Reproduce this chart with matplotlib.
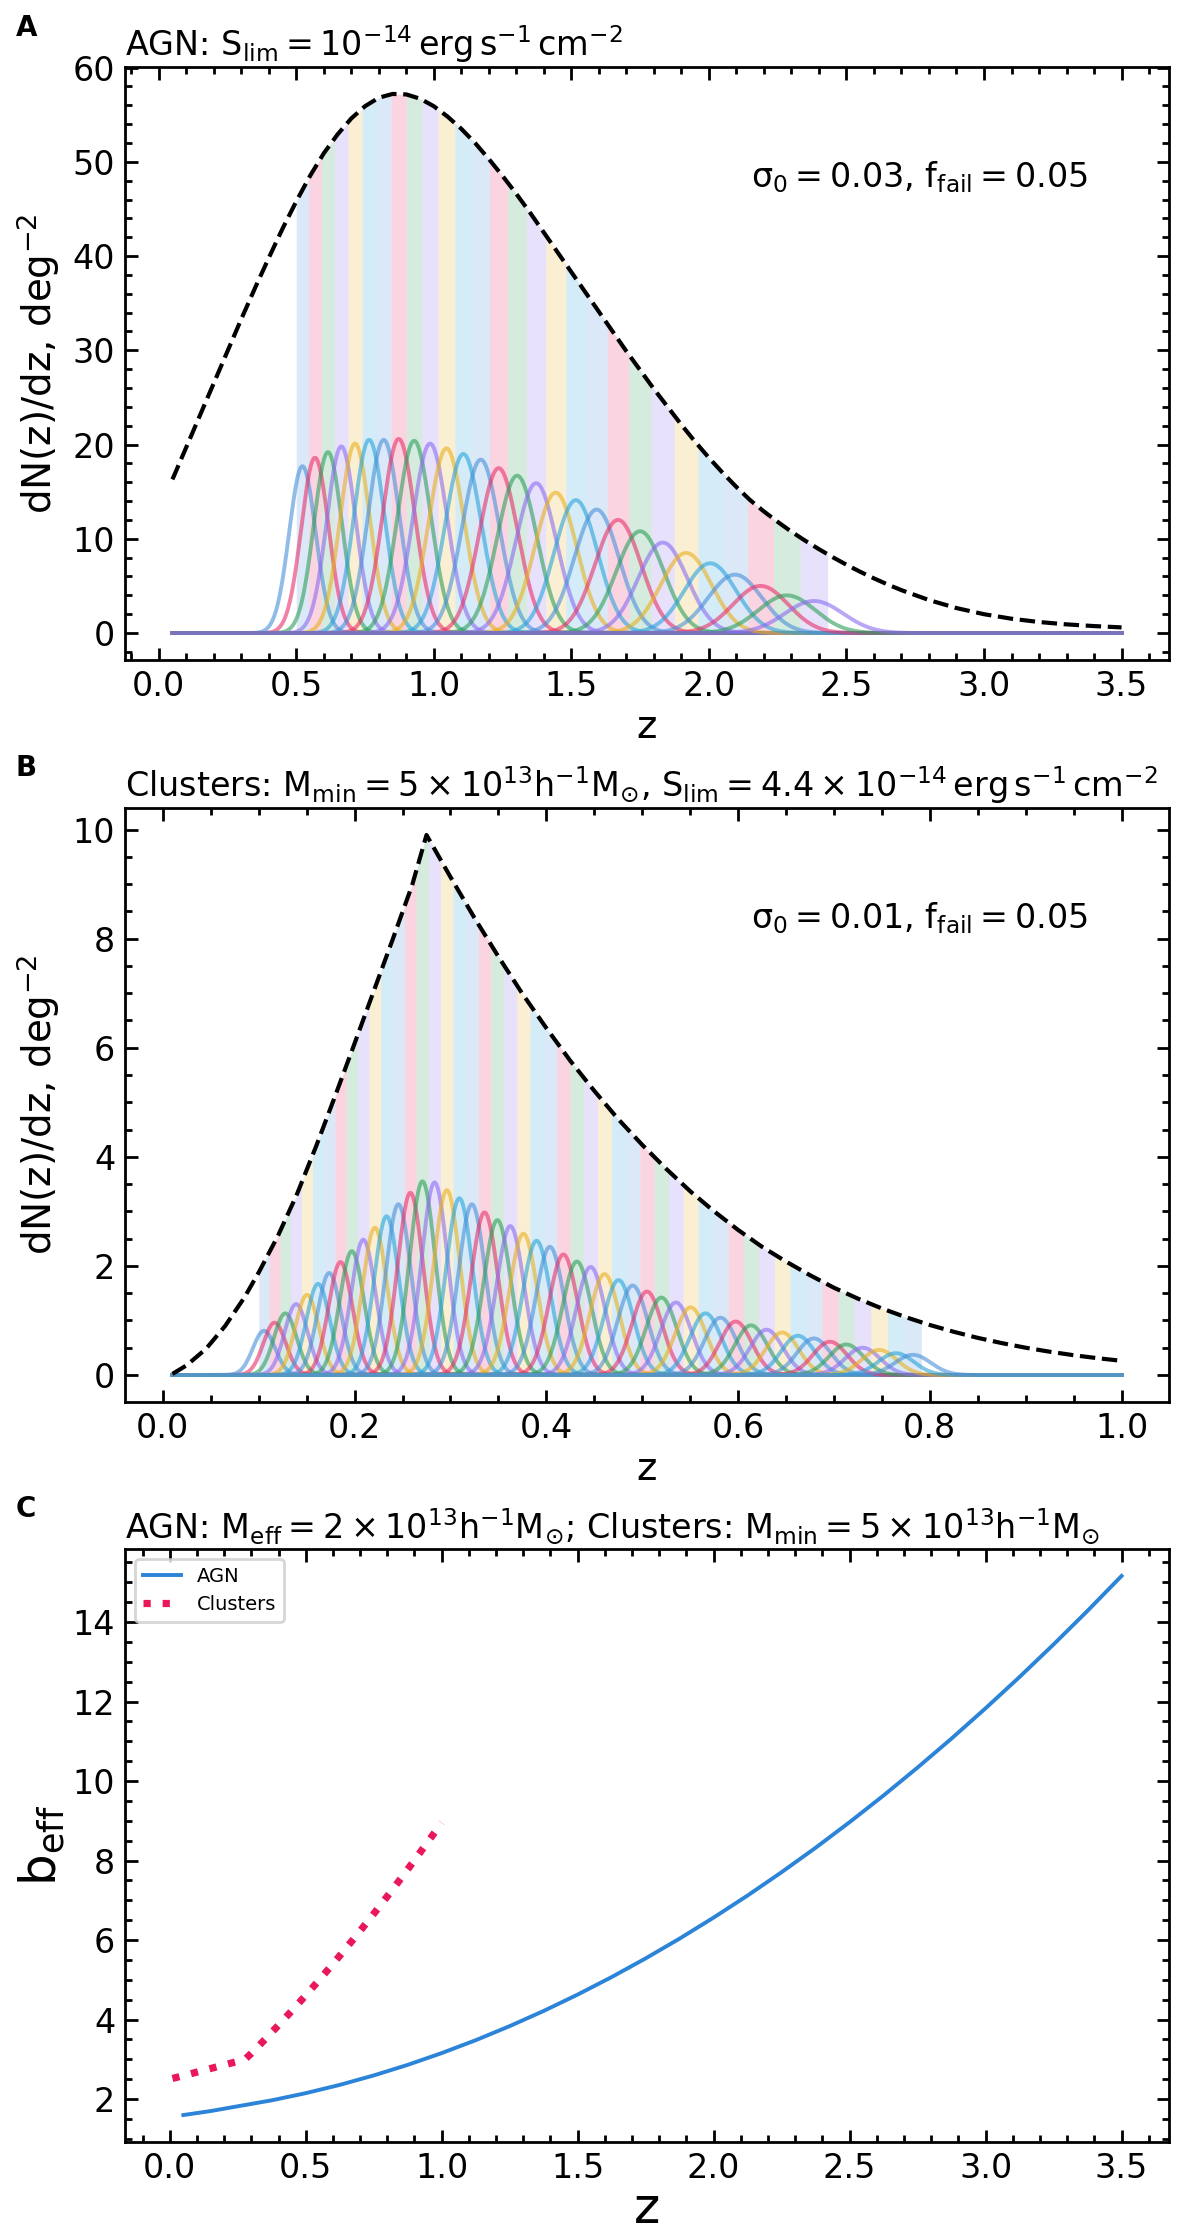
import numpy as np
import matplotlib
matplotlib.use("Agg")
import matplotlib.pyplot as plt

plt.rcParams["font.family"] = ["DejaVu Sans"]
plt.rcParams["mathtext.default"] = "regular"
plt.rcParams["axes.linewidth"] = 1.0

# ---- panel A: AGN dN/dz envelope and photo-z bins ----
agn_env_z = [0.05, 0.10, 0.15, 0.20, 0.25, 0.30, 0.35, 0.40, 0.45, 0.50, 0.55,
             0.60, 0.65, 0.70, 0.75, 0.80, 0.85, 0.90, 0.95, 1.00, 1.05, 1.10,
             1.15, 1.20, 1.25, 1.30, 1.35, 1.40, 1.45, 1.50, 1.55, 1.60, 1.65,
             1.70, 1.75, 1.80, 1.85, 1.90, 1.95, 2.00, 2.05, 2.10, 2.15, 2.20,
             2.25, 2.30, 2.35, 2.40, 2.45, 2.50, 2.55, 2.60, 2.65, 2.70, 2.80,
             2.90, 3.00, 3.10, 3.20, 3.30, 3.40, 3.50]
agn_env_n = [16.3, 19.7, 23.1, 26.5, 29.9, 33.3, 36.6, 39.8, 42.9, 45.8, 48.5,
             50.9, 52.9, 54.6, 55.9, 56.8, 57.2, 57.15, 56.7, 55.9, 54.8, 53.5,
             52.0, 50.3, 48.5, 46.6, 44.6, 42.5, 40.4, 38.3, 36.2, 34.1, 32.0,
             29.9, 27.9, 25.9, 24.0, 22.1, 20.3, 18.6, 17.0, 15.5, 14.1, 12.9,
             11.8, 10.75, 9.8, 8.9, 8.05, 7.25, 6.5, 5.8, 5.15, 4.55, 3.5,
             2.65, 2.0, 1.52, 1.17, 0.92, 0.74, 0.6]
agn_bin_edges = [0.5, 0.545, 0.5914, 0.6391, 0.6883, 0.7389, 0.7911, 0.8448,
                 0.9002, 0.9572, 1.0159, 1.0764, 1.1386, 1.2028, 1.2689, 1.337,
                 1.4071, 1.4793, 1.5537, 1.6303, 1.7092, 1.7905, 1.8742, 1.9604,
                 2.0492, 2.1407, 2.2349, 2.3319, 2.4319]
agn_bin_peaks = [17.7, 18.6, 19.2, 19.8, 20.1, 20.5, 20.5, 20.6, 20.4, 20.1,
                 19.6, 19.0, 18.4, 17.5, 16.7, 15.9, 14.9, 14.1, 13.1, 12.0,
                 10.8, 9.6, 8.5, 7.4, 6.2, 5.0, 4.0, 3.4]
agn_sigma0 = 0.03

# ---- panel B: clusters ----
cl_env_z = [0.01, 0.025, 0.045, 0.065, 0.085, 0.10, 0.12, 0.14, 0.16, 0.18,
            0.20, 0.22, 0.24, 0.26, 0.275, 0.30, 0.325, 0.35, 0.375, 0.40,
            0.425, 0.45, 0.475, 0.50, 0.525, 0.55, 0.575, 0.60, 0.625, 0.65,
            0.675, 0.70, 0.725, 0.75, 0.775, 0.80, 0.825, 0.85, 0.875, 0.90,
            0.925, 0.95, 0.975, 1.0]
cl_env_n = [0.02, 0.18, 0.48, 0.9, 1.42, 1.88, 2.55, 3.32, 4.2, 5.13, 6.08,
            7.04, 8.0, 8.98, 9.9, 9.13, 8.38, 7.67, 6.99, 6.36, 5.76, 5.21,
            4.69, 4.22, 3.78, 3.37, 3.0, 2.66, 2.35, 2.08, 1.83, 1.60, 1.40,
            1.22, 1.06, 0.917, 0.792, 0.681, 0.585, 0.50, 0.427, 0.363, 0.308,
            0.26]
cl_bin_edges = [0.1, 0.111, 0.1221, 0.1333, 0.1447, 0.1561, 0.1677, 0.1794,
                0.1911, 0.2031, 0.2151, 0.2272, 0.2395, 0.2519, 0.2644, 0.2771,
                0.2898, 0.3027, 0.3158, 0.3289, 0.3422, 0.3556, 0.3692, 0.3829,
                0.3967, 0.4107, 0.4248, 0.439, 0.4534, 0.468, 0.4826, 0.4975,
                0.5124, 0.5276, 0.5428, 0.5583, 0.5738, 0.5896, 0.6055, 0.6215,
                0.6378, 0.6541, 0.6707, 0.6874, 0.7043, 0.7213, 0.7385, 0.7559,
                0.7735, 0.7912]
cl_bin_peaks = [0.81, 0.96, 1.13, 1.30, 1.47, 1.67, 1.87, 2.07, 2.27, 2.48,
                2.70, 2.91, 3.13, 3.34, 3.55, 3.53, 3.39, 3.24, 3.13, 2.98,
                2.84, 2.73, 2.59, 2.46, 2.35, 2.21, 2.08, 1.98, 1.85, 1.74,
                1.64, 1.53, 1.42, 1.33, 1.24, 1.13, 1.05, 0.98, 0.91, 0.83,
                0.78, 0.72, 0.67, 0.61, 0.56, 0.50, 0.46, 0.40, 0.37]
cl_sigma0 = 0.01

# ---- panel C: effective bias ----
bias_agn_z = [0.05, 0.15, 0.25, 0.375, 0.5, 0.625, 0.75, 0.875, 1.0, 1.125,
              1.25, 1.375, 1.5, 1.625, 1.75, 1.875, 2.0, 2.125, 2.25, 2.375,
              2.5, 2.625, 2.75, 2.875, 3.0, 3.125, 3.25, 3.375, 3.5]
bias_agn_b = [1.6, 1.70, 1.82, 1.97, 2.15, 2.358, 2.596, 2.862, 3.158, 3.482,
              3.836, 4.218, 4.63, 5.07, 5.54, 6.038, 6.566, 7.122, 7.708,
              8.322, 8.966, 9.638, 10.34, 11.07, 11.83, 12.618, 13.436,
              14.282, 15.158]
bias_cl_z = [0.01, 0.05, 0.1, 0.15, 0.2, 0.25, 0.28, 0.3, 0.35, 0.4, 0.45,
             0.5, 0.55, 0.6, 0.65, 0.7, 0.75, 0.8, 0.85, 0.9, 0.95, 1.0]
bias_cl_b = [2.52, 2.59, 2.68, 2.77, 2.86, 2.95, 3.02, 3.15, 3.5, 3.86, 4.23,
             4.61, 5.0, 5.4, 5.81, 6.23, 6.66, 7.1, 7.55, 8.01, 8.48, 8.95]

bin_colors = ["#4a90d9", "#e6306a", "#2e9e5b", "#8b6cf0", "#e8b020", "#29a3da"]

W, H = 1200, 2231
fig = plt.figure(figsize=(W / 200, H / 200), dpi=200)


def panel_axes(top_px, bottom_px):
    left, right = 125, 1169
    return fig.add_axes([left / W, 1 - bottom_px / H,
                         (right - left) / W, (bottom_px - top_px) / H])


def style_axes(ax, xminor, yminor):
    ax.minorticks_on()
    ax.xaxis.set_minor_locator(matplotlib.ticker.AutoMinorLocator(xminor))
    ax.yaxis.set_minor_locator(matplotlib.ticker.AutoMinorLocator(yminor))
    ax.tick_params(which="both", direction="in", top=True, right=True,
                   labelsize=12, width=1.0)
    ax.tick_params(which="major", length=4.5)
    ax.tick_params(which="minor", length=2.5)


def draw_bins(ax, env_z, env_n, edges, peaks, sigma0):
    z_grid = np.linspace(env_z[0], env_z[-1], 2000)
    for i, h in enumerate(peaks):
        lo, hi = edges[i], edges[i + 1]
        c = bin_colors[i % len(bin_colors)]
        zz = np.linspace(lo, hi, 30)
        ax.fill_between(zz, 0, np.interp(zz, env_z, env_n), color=c,
                        alpha=0.2, lw=0)
        zc = 0.5 * (lo + hi)
        sig = 1.05 * sigma0 * (1 + zc)
        ax.plot(z_grid, h * np.exp(-0.5 * ((z_grid - zc) / sig) ** 2),
                color=c, alpha=0.6, lw=1.4)
    ax.plot(env_z, env_n, color="black", ls="--", lw=1.5)


# panel A
axA = panel_axes(67, 660)
draw_bins(axA, agn_env_z, agn_env_n, agn_bin_edges, agn_bin_peaks, agn_sigma0)
style_axes(axA, 5, 5)
axA.set_yticks([0, 10, 20, 30, 40, 50, 60])
axA.set_xlabel("z", fontsize=14, labelpad=2)
axA.set_ylabel(r"dN(z)/dz, deg$^{-2}$", fontsize=14)
axA.set_title(r"AGN: $S_{lim} = 10^{-14}\,erg\,s^{-1}\,cm^{-2}$",
              loc="left", fontsize=12, pad=4)
axA.text(0.60, 0.815, r"$\sigma_0 = 0.03$, $f_{fail} = 0.05$",
         transform=axA.transAxes, fontsize=12, va="center")

# panel B
axB = panel_axes(808, 1402)
draw_bins(axB, cl_env_z, cl_env_n, cl_bin_edges, cl_bin_peaks, cl_sigma0)
style_axes(axB, 4, 4)
axB.set_xlabel("z", fontsize=14, labelpad=2)
axB.set_ylabel(r"dN(z)/dz, deg$^{-2}$", fontsize=14)
axB.set_title(r"Clusters: $M_{min} = 5\times10^{13}h^{-1}M_{\odot}$, "
              r"$S_{lim} = 4.4\times10^{-14}\,erg\,s^{-1}\,cm^{-2}$",
              loc="left", fontsize=12, pad=4)
axB.text(0.60, 0.815, r"$\sigma_0 = 0.01$, $f_{fail} = 0.05$",
         transform=axB.transAxes, fontsize=12, va="center")

# panel C
axC = panel_axes(1549, 2142)
axC.plot(bias_agn_z, bias_agn_b, color="#2b84d8", lw=1.4, label="AGN")
axC.plot(bias_cl_z, bias_cl_b, color="#e8185a", lw=2.6, ls=":",
         label="Clusters")
style_axes(axC, 5, 4)
axC.set_xlabel("z", fontsize=18, labelpad=0)
axC.set_ylabel(r"$b_{eff}$", fontsize=18, labelpad=2)
axC.set_title(r"AGN: $M_{eff} = 2\times10^{13}h^{-1}M_{\odot}$; "
              r"Clusters: $M_{min} = 5\times10^{13}h^{-1}M_{\odot}$",
              loc="left", fontsize=12, pad=4)
axC.legend(loc="upper left", fontsize=7)

for label, top_px in (("A", 14), ("B", 754), ("C", 1495)):
    fig.text(16 / W, 1 - top_px / H, label, fontsize=10, fontweight="bold",
             ha="left", va="top")

fig.savefig("out.png", dpi=200)
